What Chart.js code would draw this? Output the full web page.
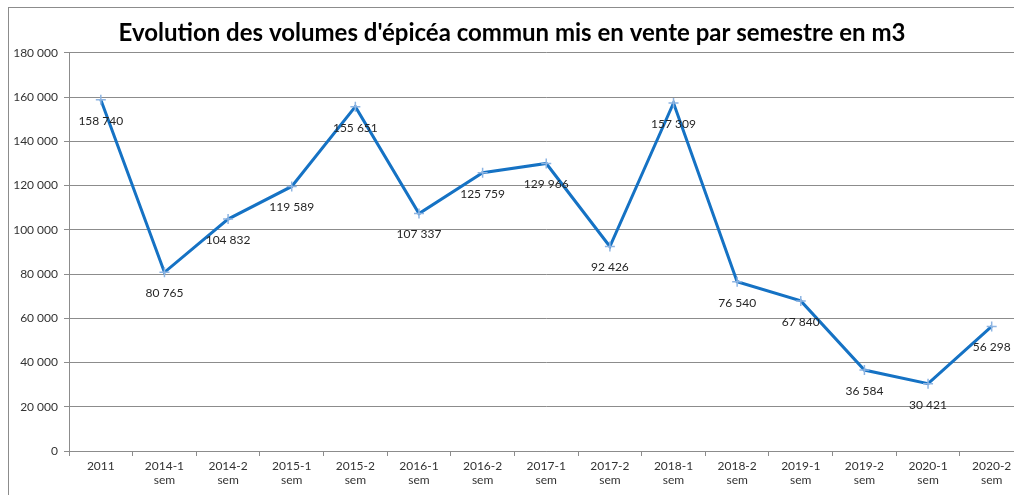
<!DOCTYPE html>
<html>
<head>
<meta charset="utf-8">
<script src="https://cdn.jsdelivr.net/npm/chart.js@4.4.0/dist/chart.umd.min.js"></script>
<style>
  html, body { margin: 0; padding: 0; overflow: hidden; background: #fff; }
  #wrap { position: absolute; left: 0; top: 0; width: 1030px; height: 495px; }
</style>
</head>
<body>
<div id="wrap"><canvas id="volumesChart" width="1030" height="495"></canvas></div>
<script>
// donnees
var categories = ['2011', ['2014-1', 'sem'], ['2014-2', 'sem'], ['2015-1', 'sem'], ['2015-2', 'sem'],
    ['2016-1', 'sem'], ['2016-2', 'sem'], ['2017-1', 'sem'], ['2017-2', 'sem'], ['2018-1', 'sem'],
    ['2018-2', 'sem'], ['2019-1', 'sem'], ['2019-2', 'sem'], ['2020-1', 'sem'], ['2020-2', 'sem']];
var volumes = [158740, 80765, 104832, 119589, 155651, 107337, 125759, 129966, 92426, 157309,
    76540, 67840, 36584, 30421, 56298];
var yMin = 0;
var yMax = 180000;
var yStep = 20000;

function formatNombre(v) {
    return String(v).replace(/\B(?=(\d{3})+(?!\d))/g, ' ');
}

var fontAxe = { family: 'Lato, "Open Sans", sans-serif', size: 12 };

// cadre du graphique
var cadre = {
    id: 'cadre',
    beforeDraw: function (chart) {
        var ctx = chart.ctx;
        ctx.save();
        ctx.fillStyle = '#fff';
        ctx.fillRect(0, 0, chart.width, chart.height);
        ctx.strokeStyle = '#8c8c8c';
        ctx.lineWidth = 1;
        ctx.strokeRect(8.5, 7.5, chart.width, chart.height);
        ctx.restore();
    }
};

// etiquettes de valeurs sous les points
var etiquettes = {
    id: 'etiquettes',
    afterDatasetsDraw: function (chart) {
        var ctx = chart.ctx;
        var meta = chart.getDatasetMeta(0);
        ctx.save();
        ctx.font = '12px Lato, "Open Sans", sans-serif';
        ctx.fillStyle = '#262626';
        ctx.textAlign = 'center';
        ctx.textBaseline = 'middle';
        meta.data.forEach(function (pt, i) {
            var txt = formatNombre(volumes[i]);
            var w = ctx.measureText(txt).width;
            var x = pt.x;
            if (x + w / 2 > 1012) x = 1012 - w / 2;
            ctx.fillText(txt, x, pt.y + 21);
        });
        ctx.restore();
    }
};

var ctx = document.getElementById('volumesChart').getContext('2d');
var myChart = new Chart(ctx, {
    type: 'line',
    data: {
        labels: categories,
        datasets: [{
            label: 'Volumes (m3)',
            data: volumes,
            borderColor: '#1572C4',
            borderWidth: 3,
            backgroundColor: 'transparent',
            tension: 0,
            pointStyle: 'cross',
            pointRadius: 5,
            pointBorderColor: '#8DB4E2',
            pointBorderWidth: 1.5,
            pointBackgroundColor: '#8DB4E2'
        }]
    },
    options: {
        responsive: false,
        animation: false,
        layout: { padding: { left: 0, right: 6, top: 0, bottom: 0 } },
        plugins: {
            legend: { display: false },
            tooltip: { enabled: false },
            title: {
                display: true,
                text: "Evolution des volumes d'épicéa commun mis en vente par semestre en m3",
                color: '#000',
                font: { family: 'Lato, "Open Sans", sans-serif', size: 24, weight: 'bold' },
                padding: { top: 19, bottom: 5 }
            }
        },
        scales: {
            x: {
                offset: true,
                grid: { drawOnChartArea: false, drawTicks: true, tickLength: 5, color: '#8c8c8c', offset: true },
                border: { color: '#8c8c8c' },
                ticks: { color: '#333', font: fontAxe, padding: 3, maxRotation: 0, autoSkip: false },
                afterFit: function (scale) { scale.height = 44; }
            },
            y: {
                min: yMin,
                max: yMax,
                ticks: {
                    stepSize: yStep,
                    color: '#333',
                    font: fontAxe,
                    padding: 6,
                    callback: function (v) { return formatNombre(v); }
                },
                grid: { color: '#8c8c8c', tickLength: 5 },
                border: { color: '#8c8c8c' },
                afterFit: function (scale) { scale.width = 69; }
            }
        }
    },
    plugins: [cadre, etiquettes]
});
</script>
</body>
</html>
